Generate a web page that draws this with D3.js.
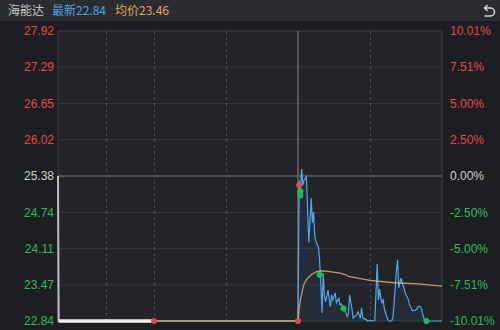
<!DOCTYPE html>
<html>
<head>
<meta charset="utf-8">
<script src="https://cdn.jsdelivr.net/npm/d3@7"></script>
<style>
  body { margin: 0; background: #1d1e22; }
  svg { display: block; font-family: "Liberation Sans", Arial, sans-serif; }
</style>
</head>
<body>
<div id="chart"></div>
<script>
// header
var stockName = "海能达";
var lastLabel = "最新22.84";
var avgLabel = "均价23.46";
var preClose = 25.38;

// axis ticks
var priceTicks = [27.92, 27.29, 26.65, 26.02, 25.38, 24.74, 24.11, 23.47, 22.84];
var pctTicks = ["10.01%", "7.51%", "5.00%", "2.50%", "0.00%", "-2.50%", "-5.00%", "-7.51%", "-10.01%"];

// minutes from 9:30 (negative = call auction)
var dashedMinutes = [-7.5, 0, 60, 180];
var lunchMinute = 120;

var auctionMinutes = [-15, -14.9, 0];
var auctionPrices  = [25.38, 22.84, 22.84];

var priceMinutes = [0, 120, 121, 122, 123, 124, 125, 127, 129, 130, 131, 132, 133, 134, 136, 137, 138, 139, 140,
  141, 142, 143, 145, 147, 148, 149, 151, 152, 154, 155, 156, 158, 159, 161, 162, 163, 165, 166, 169, 170,
  172, 173, 174, 177, 178, 180, 183, 184, 186, 187, 188, 189, 190, 191, 192, 193, 194, 195, 196, 198,
  199, 200, 201, 202, 203, 204, 205, 206, 207, 208, 209, 210, 211, 212, 213, 214, 215, 217, 218, 219,
  220, 221, 222, 223, 224, 225, 226, 240];
var prices = [22.84, 22.84, 25.30, 25.12, 25.50, 25.22, 25.30, 25.37, 24.21, 24.60, 24.99, 24.56, 24.75, 24.31, 24.17, 24.14, 23.90, 23.50, 22.98,
  23.68, 23.27, 23.18, 23.38, 23.09, 23.30, 23.21, 23.33, 23.16, 23.24, 23.12, 23.14, 23.07, 23.03, 22.92, 22.96, 23.30, 23.05, 22.89, 22.95, 23.00,
  22.89, 23.07, 22.89, 22.86, 22.84, 22.85, 22.84, 22.85, 23.84, 23.21, 23.40, 23.24, 23.16, 23.21, 23.05, 22.98, 22.91, 22.86, 22.84, 22.84,
  22.89, 23.12, 23.42, 23.73, 23.91, 23.42, 23.52, 23.59, 23.49, 23.44, 23.35, 23.30, 23.26, 23.21, 23.12, 23.09, 23.03, 23.02, 23.03, 23.05,
  23.09, 23.10, 23.09, 23.05, 22.95, 22.88, 22.84, 22.84];

var avgMinutes = [0, 120, 121, 122, 123, 125, 128, 131, 135, 139, 145, 155, 160, 162, 180, 200, 220, 240];
var avgPrices  = [22.84, 22.84, 23.07, 23.21, 23.31, 23.49, 23.59, 23.65, 23.70, 23.72, 23.71, 23.68, 23.65, 23.62, 23.55, 23.51, 23.49, 23.45];

// trade markers
var markMinutes = [0, 120, 121, 122, 122, 138, 158, 227];
var markPrices  = [22.84, 22.84, 25.22, 25.11, 25.04, 23.65, 23.06, 22.84];
var markTypes   = ["up", "up", "up", "down", "down", "down", "down", "down"];

var width = 500, height = 330;
var plotLeft = 58, plotRight = 442, plotTop = 31, plotBottom = 321;

var x = d3.scaleLinear().domain([-15, 0, 240]).range([plotLeft, 154, plotRight]);
var y = d3.scaleLinear().domain([22.84, 27.92]).range([plotBottom, plotTop]);

var svg = d3.select("#chart").append("svg")
  .attr("width", width)
  .attr("height", height);

// header bar
svg.append("rect").attr("width", width).attr("height", 21).attr("fill", "#2b2c30");
var head = svg.append("g").attr("font-family", "'Noto Sans CJK SC', sans-serif").attr("font-size", 12);
head.append("text").attr("x", 8).attr("y", 11).attr("dy", "0.35em").attr("fill", "#c9c9c9").text(stockName);
head.append("text").attr("x", 52).attr("y", 11).attr("dy", "0.35em").attr("fill", "#4ea4e8").text(lastLabel);
head.append("text").attr("x", 115).attr("y", 11).attr("dy", "0.35em").attr("fill", "#e2a45c").text(avgLabel);
// return icon
svg.append("path")
  .attr("d", "M484.5,8 L490.5,8 A4,4 0 0 1 490.5,16 L484.5,16 M487.5,5 L484.5,8 L487.5,11")
  .attr("fill", "none").attr("stroke", "#d6d6d6").attr("stroke-width", 1.5);

// plot background
svg.append("rect")
  .attr("x", plotLeft).attr("y", plotTop)
  .attr("width", plotRight - plotLeft).attr("height", plotBottom - plotTop)
  .attr("fill", "#232428").attr("stroke", "#3b3c40");

// horizontal grid
svg.append("g").selectAll("line")
  .data(priceTicks.slice(1, -1))
  .enter().append("line")
  .attr("x1", plotLeft).attr("x2", plotRight)
  .attr("y1", function(d) { return y(d); })
  .attr("y2", function(d) { return y(d); })
  .attr("stroke", function(d) { return d === preClose ? "#505155" : "#36373b"; })
  .attr("stroke-width", function(d) { return d === preClose ? 2 : 1; });

// vertical grid
svg.append("g").selectAll("line")
  .data(dashedMinutes)
  .enter().append("line")
  .attr("x1", function(d) { return Math.round(x(d)) + 0.5; })
  .attr("x2", function(d) { return Math.round(x(d)) + 0.5; })
  .attr("y1", plotTop).attr("y2", plotBottom)
  .attr("stroke", "#4a4b4f")
  .attr("stroke-dasharray", "3,3");
svg.append("line")
  .attr("x1", x(lunchMinute)).attr("x2", x(lunchMinute))
  .attr("y1", plotTop).attr("y2", plotBottom)
  .attr("stroke", "#66676c").attr("stroke-width", 1.5);

// axes
var yLeft = d3.axisLeft(y).tickValues(priceTicks).tickSize(0).tickPadding(4).tickFormat(d3.format(".2f"));
var yRight = d3.axisRight(y).tickValues(priceTicks).tickSize(0).tickPadding(8)
  .tickFormat(function(d, i) { return pctTicks[i]; });

function tickColor(d) {
  if (d > preClose) return "#e5484d";
  if (d < preClose) return "#2dbb5b";
  return "#cfcfcf";
}

var gl = svg.append("g").attr("transform", "translate(" + plotLeft + ",0)").call(yLeft);
var gr = svg.append("g").attr("transform", "translate(" + plotRight + ",0)").call(yRight);
[gl, gr].forEach(function(g) {
  g.select(".domain").remove();
  g.selectAll("text")
    .attr("font-size", 12)
    .attr("font-family", "'Liberation Sans', Arial, sans-serif")
    .attr("fill", tickColor);
});

// series
var priceData = priceMinutes.map(function(m, i) { return { m: m, p: prices[i] }; });
var avgData = avgMinutes.map(function(m, i) { return { m: m, p: avgPrices[i] }; });
var auctionData = auctionMinutes.map(function(m, i) { return { m: m, p: auctionPrices[i] }; });

var line = d3.line()
  .x(function(d) { return x(d.m); })
  .y(function(d) { return y(d.p); });

var area = d3.area()
  .x(function(d) { return x(d.m); })
  .y0(plotBottom)
  .y1(function(d) { return y(d.p); });

svg.append("path")
  .datum(priceData)
  .attr("d", area)
  .attr("fill", "#2f6fae")
  .attr("fill-opacity", 0.12);

svg.append("path")
  .datum(priceData)
  .attr("d", line)
  .attr("fill", "none")
  .attr("stroke", "#52a6ea")
  .attr("stroke-width", 1.2);

svg.append("path")
  .datum(avgData)
  .attr("d", line)
  .attr("fill", "none")
  .attr("stroke", "#e6b676")
  .attr("stroke-opacity", 0.8)
  .attr("stroke-width", 1.3);

// auction: thin drop from prev close, thick flat part
svg.append("path")
  .datum(auctionData)
  .attr("d", line)
  .attr("fill", "none")
  .attr("stroke", "#bdbdbd")
  .attr("stroke-width", 2);
svg.append("path")
  .datum(auctionData.slice(1))
  .attr("d", line)
  .attr("fill", "none")
  .attr("stroke", "#f0f0f0")
  .attr("stroke-width", 3.5);

// markers
svg.append("g").selectAll("circle")
  .data(markMinutes)
  .enter().append("circle")
  .attr("cx", function(d) { return x(d); })
  .attr("cy", function(d, i) { return y(markPrices[i]); })
  .attr("r", 3)
  .attr("fill", function(d, i) { return markTypes[i] === "up" ? "#e5484d" : "#27b957"; });
</script>
</body>
</html>
